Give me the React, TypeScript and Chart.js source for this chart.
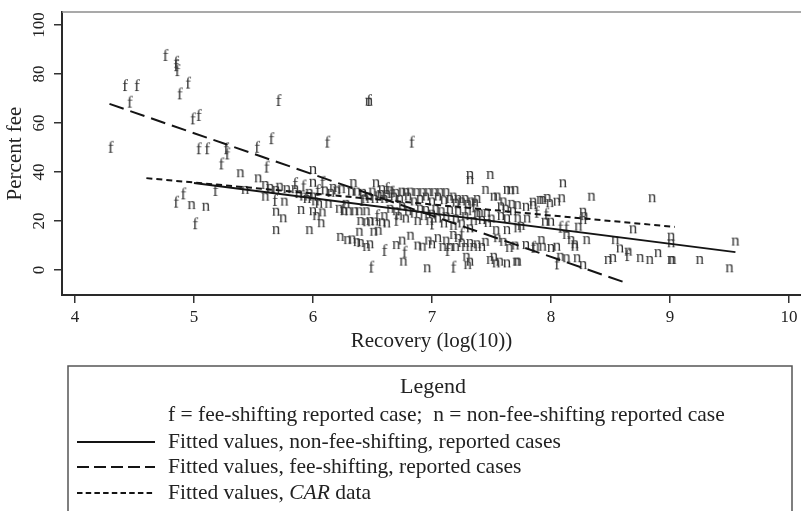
import React, { useEffect, useRef } from 'react';
import { Chart, registerables } from 'chart.js';

Chart.register(...registerables);

const xTicks = [4, 5, 6, 7, 8, 9, 10];
const yTicks = [0, 20, 40, 60, 80, 100];
const xTitle = 'Recovery (log(10))';
const yTitle = 'Percent fee';

// "f" markers: fee-shifting reported cases [recovery, percent fee]
const feeCases: [number, number][] = [
  [4.76, 87.8], [4.85, 85.0], [4.85, 83.6], [4.86, 81.6], [4.42, 75.5], [4.52, 75.5],
  [4.46, 68.7], [4.95, 76.5], [4.88, 72.1], [4.99, 61.9], [5.04, 63.3], [4.30, 50.3],
  [5.04, 49.7], [5.11, 49.7], [5.27, 49.7], [5.28, 47.6], [5.23, 43.5], [5.53, 50.3],
  [5.65, 53.8], [5.61, 42.2], [5.71, 69.4], [6.12, 52.4], [6.47, 69.4], [6.83, 52.4],
  [4.91, 31.3], [4.85, 27.9], [5.01, 19.1], [5.18, 32.7], [5.68, 28.6], [5.85, 35.5],
  [6.08, 36.0], [6.04, 32.7], [6.41, 28.6], [6.54, 22.4], [6.62, 33.5], [6.66, 32.0],
  [6.60, 8.2], [6.49, 1.4], [6.77, 7.5], [7.18, 1.4], [7.13, 8.2], [7.88, 23.8],
  [7.96, 23.1], [8.08, 17.7], [8.13, 17.7], [8.05, 2.7], [8.64, 6.1], [7.85, 9.5],
  [5.92, 34.5], [6.25, 25.0], [7.00, 19.0], [7.35, 26.0], [7.25, 15.0], [6.70, 20.5],
];

// "n" markers: non-fee-shifting reported cases [recovery, percent fee]
const nonFeeCases: [number, number][] = [
  [4.98, 26.5], [5.10, 25.8], [5.39, 39.5], [5.43, 32.7], [5.54, 37.4], [5.60, 34.7],
  [5.60, 29.9], [5.69, 32.7], [5.76, 27.9], [5.69, 23.8], [5.75, 21.1], [5.69, 16.3],
  [5.72, 34.0], [5.78, 33.0], [5.64, 33.5],
  [5.85, 33], [5.88, 31], [5.90, 24.5], [5.92, 30], [5.95, 29], [5.97, 31.5],
  [6.00, 40.8], [6.00, 35.6], [6.00, 30], [6.00, 24], [6.02, 28], [6.03, 22],
  [6.05, 27], [6.07, 19.1], [6.08, 23.5], [6.10, 32.5], [6.13, 27], [6.15, 31.5],
  [6.17, 33.5], [6.20, 32.5], [6.22, 25], [6.24, 33], [6.26, 24], [6.28, 27],
  [6.30, 24], [6.32, 32], [6.34, 35.5], [6.35, 24], [6.37, 32], [6.39, 24],
  [6.40, 20], [6.42, 31.5], [6.44, 29], [6.45, 24], [6.47, 30], [6.48, 20],
  [6.50, 32], [6.52, 29], [6.53, 35.4], [6.55, 30.5], [6.57, 31], [6.58, 33],
  [6.60, 29], [6.60, 22], [5.97, 16.3], [6.39, 15.6], [6.51, 15.6], [6.55, 16],
  [6.45, 19.5], [6.52, 19.8], [6.58, 19.5], [6.62, 19], [6.23, 13.5], [6.29, 12.2],
  [6.33, 12.5], [6.37, 11.4], [6.40, 11], [6.45, 9.4], [6.48, 10.5], [6.47, 68.7],
  [6.62, 31], [6.65, 32.5], [6.68, 30], [6.70, 31.5], [6.73, 29], [6.75, 32],
  [6.78, 31.8], [6.80, 30], [6.82, 32], [6.85, 28], [6.87, 31.8], [6.90, 29],
  [6.92, 31.8], [6.95, 30], [6.97, 31.8], [7.00, 28], [7.02, 31.8], [7.05, 30],
  [7.07, 31.8], [7.10, 28.5], [7.12, 31.8], [7.15, 29], [7.18, 30], [7.20, 27.5],
  [7.22, 29], [7.25, 28], [7.28, 29], [7.30, 27], [7.33, 28], [7.36, 27.5],
  [7.38, 29], [7.32, 38.8], [7.32, 36.7], [7.49, 38.8], [7.45, 32.7], [7.52, 29.9],
  [7.63, 32.7], [7.70, 32.7], [7.66, 32.5],
  [6.65, 25], [6.70, 24], [6.72, 22], [6.75, 26], [6.78, 21], [6.80, 24],
  [6.85, 23], [6.88, 20], [6.90, 25], [6.93, 22], [6.95, 24.5], [6.98, 20],
  [7.00, 23], [7.03, 25], [7.05, 21], [7.08, 24], [7.10, 19], [7.12, 22],
  [7.15, 24.5], [7.18, 18], [7.20, 21], [7.22, 24], [7.25, 19], [7.28, 22],
  [7.30, 24], [7.32, 17], [7.35, 20], [7.38, 23], [7.40, 23.3], [7.42, 20.4],
  [7.46, 23.3], [7.47, 19.2], [7.50, 21], [7.54, 16.3], [7.63, 16.3], [7.72, 17],
  [7.63, 21.1], [7.72, 21.1], [7.58, 22], [7.68, 24],
  [6.70, 10.2], [6.75, 12], [6.82, 14], [6.88, 10], [6.92, 9.5], [6.97, 12],
  [7.00, 10.5], [7.05, 13], [7.09, 9.4], [7.12, 12], [7.15, 9.4], [7.18, 14.3],
  [7.22, 13.1], [7.20, 9.4], [7.25, 11], [7.28, 9.4], [7.32, 11], [7.35, 9.4],
  [7.38, 10.5], [7.42, 9.4], [7.45, 11.5],
  [6.76, 3.4], [6.96, 0.7], [7.30, 2], [7.29, 5.4], [7.32, 3.4], [7.49, 4.1],
  [7.52, 5.4], [7.54, 2.7], [7.57, 3.4], [7.63, 2.7], [7.71, 3.4], [7.72, 3.4],
  [7.79, 25.8], [7.85, 27.9], [7.93, 28.6], [7.99, 27.3], [8.05, 27.9], [8.09, 29.3],
  [7.85, 26.5], [7.91, 28.6], [7.97, 29.4], [8.10, 35.4], [8.34, 29.9], [8.27, 23.8],
  [8.27, 20.4], [8.28, 22], [7.95, 19.7], [8.00, 19.7], [8.23, 17.7], [8.13, 14.3],
  [8.17, 12.2], [8.30, 12.2], [8.20, 9.5], [8.20, 10.5], [7.79, 10.2], [7.87, 9.5],
  [7.92, 12.2], [7.93, 9.5], [8.00, 9], [8.05, 9.5], [8.08, 5.4], [8.13, 4.8],
  [8.22, 4.8], [8.27, 2], [7.60, 11.5], [7.65, 9], [7.70, 10], [7.55, 13],
  [7.75, 18], [7.80, 21], [7.58, 26], [7.62, 25], [7.67, 27], [7.72, 26.5],
  [7.55, 30], [7.60, 28],
  [8.54, 12.2], [8.69, 16.6], [8.58, 8.8], [8.65, 7.5], [8.75, 4.9], [8.83, 4.1],
  [8.90, 6.9], [9.01, 4.1], [9.02, 4.1], [9.01, 13.6], [9.01, 10.9], [9.25, 4.1],
  [9.55, 11.6], [9.50, 0.7], [8.52, 4.9], [8.48, 4.1], [8.85, 29.3],
];

// Fitted lines (end points)
const fitNonFeeX = [5.0, 9.55];
const fitNonFeeY = [35.5, 7.3];
const fitFeeX = [4.29, 8.61];
const fitFeeY = [67.8, -4.9];
const fitCarX = [4.6, 9.04];
const fitCarY = [37.5, 17.6];

const legendTitle = 'Legend';
const legendKey = 'f = fee-shifting reported case;  n = non-fee-shifting reported case';
const legendNonFee = 'Fitted values, non-fee-shifting, reported cases';
const legendFee = 'Fitted values, fee-shifting, reported cases';
const legendCarParts = ['Fitted values, ', 'CAR', ' data'];

const SERIF = '"Liberation Serif", "Times New Roman", serif';
const INK = '#222222';
const MARK = '#333333';
const LINE = '#141414';
const LONG_DASH = [15, 7];
const SHORT_DASH = [6, 4];

function letterCanvas(ch: string): HTMLCanvasElement {
  const c = document.createElement('canvas');
  c.width = 14;
  c.height = 22;
  const g = c.getContext('2d')!;
  const size = 17;
  g.font = `${size}px ${SERIF}`;
  g.fillStyle = MARK;
  g.textAlign = 'center';
  g.textBaseline = 'alphabetic';
  const shift = ch === 'n' ? 0.225 * size : 0.34 * size;
  g.fillText(ch, 7, 11 + shift);
  return c;
}

const toPts = (xs: number[], ys: number[]) => xs.map((x, i) => ({ x, y: ys[i] }));

const legendPlugin = {
  id: 'statLegend',
  afterDraw(chart: any) {
    const ctx: CanvasRenderingContext2D = chart.ctx;
    const a = chart.chartArea;
    ctx.save();
    ctx.strokeStyle = '#8c8c8c';
    ctx.lineWidth = 1.5;
    ctx.beginPath();
    ctx.moveTo(a.left, a.top);
    ctx.lineTo(a.right, a.top);
    ctx.stroke();

    const bx = 68, by = 366, bw = 724;
    ctx.strokeStyle = '#555555';
    ctx.lineWidth = 1.5;
    ctx.beginPath();
    ctx.moveTo(bx, 530);
    ctx.lineTo(bx, by);
    ctx.lineTo(bx + bw, by);
    ctx.lineTo(bx + bw, 530);
    ctx.stroke();

    ctx.fillStyle = INK;
    ctx.textBaseline = 'middle';
    ctx.textAlign = 'center';
    ctx.font = `22px ${SERIF}`;
    ctx.fillText(legendTitle, 433, 387);

    ctx.textAlign = 'left';
    const rowFont = `21.5px ${SERIF}`;
    ctx.font = rowFont;
    const tx = 168;
    const rows = [415, 442, 467, 493];
    ctx.fillText(legendKey, tx, rows[0]);
    ctx.fillText(legendNonFee, tx, rows[1]);
    ctx.fillText(legendFee, tx, rows[2]);
    let cx = tx;
    legendCarParts.forEach((p, i) => {
      ctx.font = i === 1 ? `italic 21.5px ${SERIF}` : rowFont;
      ctx.fillText(p, cx, rows[3]);
      cx += ctx.measureText(p).width;
    });

    const sample = (y: number, dash: number[]) => {
      ctx.strokeStyle = LINE;
      ctx.lineWidth = 2;
      ctx.setLineDash(dash);
      ctx.beginPath();
      ctx.moveTo(77, y);
      ctx.lineTo(155, y);
      ctx.stroke();
    };
    sample(rows[1], []);
    sample(rows[2], [12, 5]);
    sample(rows[3], [5.5, 3.2]);
    ctx.restore();
  },
};

export default function App() {
  const ref = useRef<HTMLCanvasElement | null>(null);

  useEffect(() => {
    document.body.style.margin = '0';
    document.body.style.background = '#ffffff';
    let chart: Chart | null = null;
    let cancelled = false;

    const build = () => {
      if (cancelled || !ref.current) return;
      const fImg = letterCanvas('f');
      const nImg = letterCanvas('n');
      const tickFont = { family: SERIF, size: 17 };
      const titleFont = { family: SERIF, size: 21 };
      chart = new Chart(ref.current, {
        type: 'scatter',
        data: {
          datasets: [
            {
              type: 'line',
              data: toPts(fitNonFeeX, fitNonFeeY),
              borderColor: LINE,
              borderWidth: 2,
              pointRadius: 0,
              fill: false,
            } as any,
            {
              type: 'line',
              data: toPts(fitFeeX, fitFeeY),
              borderColor: LINE,
              borderWidth: 2,
              borderDash: LONG_DASH,
              pointRadius: 0,
              fill: false,
            } as any,
            {
              type: 'line',
              data: toPts(fitCarX, fitCarY),
              borderColor: LINE,
              borderWidth: 2,
              borderDash: SHORT_DASH,
              pointRadius: 0,
              fill: false,
            } as any,
            {
              data: feeCases.map(([x, y]) => ({ x, y })),
              pointStyle: fImg,
              pointRadius: 7,
            } as any,
            {
              data: nonFeeCases.map(([x, y]) => ({ x, y })),
              pointStyle: nImg,
              pointRadius: 7,
            } as any,
          ],
        },
        options: {
          animation: false,
          responsive: false,
          events: [],
          layout: { autoPadding: false, padding: { left: 0, right: 0, top: 12, bottom: 156 } },
          plugins: {
            legend: { display: false },
            tooltip: { enabled: false },
          },
          scales: {
            x: {
              type: 'linear',
              min: 3.891,
              max: 10.101,
              afterBuildTicks: (s: any) => {
                s.ticks = xTicks.map((v) => ({ value: v }));
              },
              afterFit: (s: any) => {
                s.height = 60;
                s.paddingLeft = 0;
                s.paddingRight = 0;
              },
              grid: {
                drawOnChartArea: false,
                drawTicks: true,
                tickLength: 8,
                color: '#333333',
                lineWidth: 1.5,
              },
              border: { display: true, color: '#2a2a2a', width: 2 },
              ticks: {
                font: tickFont,
                color: INK,
                padding: 4,
                maxRotation: 0,
                minRotation: 0,
                autoSkip: false,
                callback: (v: any) => String(v),
              },
              title: {
                display: true,
                text: xTitle,
                font: titleFont,
                color: INK,
                padding: { top: 0, bottom: 1 },
              },
            },
            y: {
              type: 'linear',
              min: -10.2,
              max: 105.3,
              afterBuildTicks: (s: any) => {
                s.ticks = yTicks.map((v) => ({ value: v }));
              },
              afterFit: (s: any) => {
                s.width = 62;
                s.paddingTop = 0;
                s.paddingBottom = 0;
              },
              grid: {
                drawOnChartArea: false,
                drawTicks: true,
                tickLength: 8,
                color: '#333333',
                lineWidth: 1.5,
              },
              border: { display: true, color: '#2a2a2a', width: 2 },
              ticks: {
                font: tickFont,
                color: INK,
                padding: 1.5,
                minRotation: 90,
                maxRotation: 90,
                crossAlign: 'center',
                autoSkip: false,
                callback: (v: any) => String(v),
              },
              title: {
                display: true,
                text: yTitle,
                font: titleFont,
                color: INK,
                padding: { top: 3, bottom: 0 },
              },
            },
          },
        } as any,
        plugins: [legendPlugin],
      });
    };

    const fonts = (document as any).fonts;
    if (fonts && fonts.load) {
      Promise.all([
        fonts.load(`17px "Liberation Serif"`),
        fonts.load(`italic 21px "Liberation Serif"`),
      ])
        .catch(() => null)
        .then(build);
    } else {
      build();
    }

    return () => {
      cancelled = true;
      if (chart) chart.destroy();
    };
  }, []);

  return (
    <div style={{ width: 801, height: 511, background: '#fff' }}>
      <canvas ref={ref} width={801} height={511} style={{ display: 'block', width: 801, height: 511 }} />
    </div>
  );
}
